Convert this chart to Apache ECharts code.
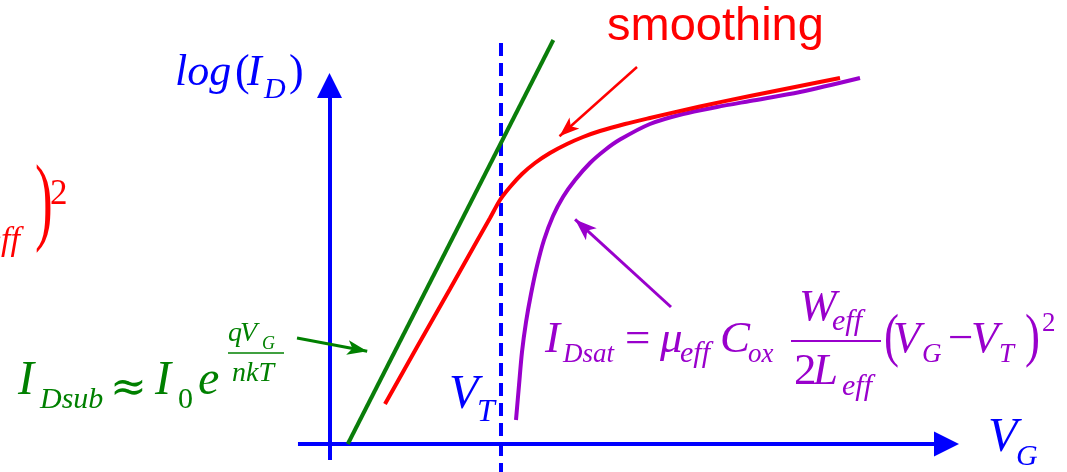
<!DOCTYPE html>
<html>
<head>
<meta charset="utf-8">
<script src="https://cdn.jsdelivr.net/npm/echarts@6/dist/echarts.min.js"></script>
<style>
  html, body { margin: 0; padding: 0; background: #ffffff; }
  #chart { width: 1067px; height: 472px; }
</style>
</head>
<body>
<div id="chart"></div>
<script>
// Gate voltage V_G (x) against log(I_D) (y), in arbitrary schematic units.

// Subthreshold exponential: a straight line on the log scale
const subthresholdVG    = [0.29, 3.55];
const subthresholdLogID = [0.00, 10.10];

// Smoothed model joining both regimes
const smoothVG    = [0.880, 1.388, 1.911, 2.339, 2.546, 2.704, 2.863, 3.053, 3.259, 3.497, 3.767, 4.021, 4.290, 4.687, 5.083, 5.876, 6.669, 7.462, 8.097];
const smoothLogID = [1.000, 2.425, 3.875, 5.075, 5.650, 6.100, 6.425, 6.750, 7.025, 7.275, 7.500, 7.675, 7.825, 8.000, 8.150, 8.438, 8.700, 8.950, 9.150];

// Square-law saturation current, rising from V_T
const saturationVG    = [2.958, 3.006, 3.053, 3.117, 3.196, 3.291, 3.402, 3.545, 3.703, 3.894, 4.132, 4.370, 4.607, 5.083, 5.607, 6.146, 6.669, 7.462, 8.414];
const saturationLogID = [0.600, 1.475, 2.300, 3.050, 3.750, 4.450, 5.100, 5.700, 6.175, 6.600, 7.025, 7.350, 7.610, 8.000, 8.250, 8.425, 8.575, 8.800, 9.150];

// Threshold voltage marker
const thresholdVG = 2.72;
const thresholdSpan = [10.025, -0.7];

// Axis arrows: [start, end] in data units
const yAxisSpan = [[0, -0.4], [0, 8.96]];
const xAxisSpan = [[-0.5, 0], [9.786, 0]];

// Pointer arrows: [tail, head]
const smoothPointer     = [[4.877, 9.425], [3.648, 7.693]];
const saturationPointer = [[5.416, 3.425], [3.895, 5.615]];
const subthPointer      = [[-0.515, 2.65], [0.598, 2.32]];

const BLUE = '#0000ff', RED = '#ff0000', GREEN = '#008000', GREEN_LINE = '#0a7d0a', PURPLE = '#9900cc';
const SERIF = '"Liberation Serif", "Times New Roman", serif';
const SANS = '"Liberation Sans", Arial, sans-serif';

const zip = (xs, ys) => xs.map((x, i) => [x, ys[i]]);

// Text placed on an alphabetic baseline (zrender centres text on the em box)
function glyph(text, x, base, size, color, opt) {
  opt = opt || {};
  const family = opt.family || SERIF;
  const fstyle = opt.italic === false ? 'normal' : 'italic';
  const mid = opt.mid != null ? opt.mid : 0.3375;
  const align = opt.align || 'left';
  return {
    type: 'text', x: x, y: base - mid * size,
    scaleX: opt.sx || 1, silent: true, z: 10,
    style: {
      text: text, fill: color,
      font: fstyle + ' ' + size + 'px ' + family,
      textAlign: align, textVerticalAlign: 'middle',
      align: align, verticalAlign: 'middle'
    }
  };
}
function bar(x1, x2, y, color, w) {
  return { type: 'line', silent: true, z: 10,
    shape: { x1: x1, y1: y, x2: x2, y2: y },
    style: { stroke: color, lineWidth: w } };
}
const up = { italic: false };

const texts = [
  // log(I_D)
  glyph('log', 175, 88, 44, BLUE),
  glyph('(', 235, 88, 44, BLUE, up),
  glyph('I', 247, 88, 44, BLUE),
  glyph('D', 264, 100, 30, BLUE),
  glyph(')', 289, 88, 44, BLUE, up),
  // V_G
  glyph('V', 988, 455, 48, BLUE),
  glyph('G', 1016, 467, 30, BLUE),
  // V_T
  glyph('V', 449, 412, 48, BLUE),
  glyph('T', 477, 423, 32, BLUE),

  // smoothing
  glyph('smoothing', 607, 43, 47, RED, { italic: false, family: SANS, mid: 0.3465 }),
  // tail of a red expression at the left edge
  glyph('eff', 20, 253, 34, RED, { align: 'right' }),
  glyph(')', 35, 239, 97, RED, { italic: false, sx: 0.55 }),
  glyph('2', 50, 207, 35, RED, up),

  // I_Dsub ≈ I_0 e^(qV_G / nkT)
  glyph('I', 18, 398, 48, GREEN),
  glyph('Dsub', 40, 410, 30, GREEN),
  glyph('\u2248', 110, 398, 44, GREEN, { italic: false, family: '"DejaVu Serif", serif', mid: 0.2 }),
  glyph('I', 155, 398, 48, GREEN),
  glyph('0', 178, 410, 30, GREEN, up),
  glyph('e', 198, 398, 48, GREEN),
  glyph('q', 228, 343, 28, GREEN),
  glyph('V', 240, 343, 28, GREEN),
  glyph('G', 262, 350, 18, GREEN),
  bar(228, 284, 353, GREEN, 1.6),
  glyph('nkT', 232, 383, 28, GREEN),

  // I_Dsat = mu_eff C_ox W_eff / (2 L_eff) (V_G - V_T)^2
  glyph('I', 545, 355, 45, PURPLE),
  glyph('Dsat', 563, 364, 27, PURPLE),
  glyph('=', 625, 355, 45, PURPLE, up),
  glyph('\u03bc', 660, 355, 45, PURPLE),
  glyph('eff', 680, 364, 30, PURPLE),
  glyph('C', 720, 355, 45, PURPLE),
  glyph('ox', 748, 364, 27, PURPLE),
  glyph('W', 799, 323, 45, PURPLE),
  glyph('eff', 832, 332, 30, PURPLE),
  bar(791, 881, 341, PURPLE, 2),
  glyph('2', 794, 387, 45, PURPLE, up),
  glyph('L', 813, 387, 45, PURPLE),
  glyph('eff', 842, 397, 30, PURPLE),
  glyph('(', 884, 359, 60, PURPLE, { italic: false, sx: 0.75 }),
  glyph('V', 893, 355, 45, PURPLE),
  glyph('G', 922, 364, 27, PURPLE),
  glyph('\u2212', 948, 355, 45, PURPLE, up),
  glyph('V', 971, 355, 45, PURPLE),
  glyph('T', 999, 364, 27, PURPLE),
  glyph(')', 1025, 359, 60, PURPLE, { italic: false, sx: 0.75 }),
  glyph('2', 1042, 333, 27, PURPLE, up)
];

function pointer(name, seg, color, width, head) {
  return {
    name: name, type: 'lines', coordinateSystem: 'cartesian2d', silent: true, z: 4,
    symbol: ['none', 'arrow'], symbolSize: [4, head],
    lineStyle: { color: color, width: width, opacity: 1, curveness: 0 },
    data: [{ coords: seg }]
  };
}

const chart = echarts.init(document.getElementById('chart'));
chart.setOption({
  animation: false,
  backgroundColor: '#ffffff',
  grid: { left: 266.45, right: 107, top: 24, bottom: 0 },
  xAxis: { type: 'value', min: -1, max: 10, show: false },
  yAxis: { type: 'value', min: -0.7, max: 10.5, show: false },
  graphic: texts,
  series: [
    {
      name: 'axes', type: 'lines', coordinateSystem: 'cartesian2d', silent: true, z: 1,
      symbol: ['none', 'triangle'], symbolSize: [4, [25, 25]],
      lineStyle: { color: BLUE, width: 4, opacity: 1, curveness: 0 },
      data: [{ coords: yAxisSpan }, { coords: xAxisSpan }]
    },
    {
      name: 'V_T', type: 'line', silent: true, z: 1, showSymbol: false,
      data: thresholdSpan.map(v => [thresholdVG, v]),
      lineStyle: { color: BLUE, width: 4, type: [13, 7] }
    },
    {
      name: 'I_Dsub', type: 'line', silent: true, z: 2, showSymbol: false,
      data: zip(subthresholdVG, subthresholdLogID),
      lineStyle: { color: GREEN_LINE, width: 4 }
    },
    {
      name: 'I_Dsat', type: 'line', silent: true, z: 2, showSymbol: false, smooth: 0.3,
      data: zip(saturationVG, saturationLogID),
      lineStyle: { color: PURPLE, width: 4 }
    },
    {
      name: 'smoothing', type: 'line', silent: true, z: 3, showSymbol: false, smooth: 0.3,
      data: zip(smoothVG, smoothLogID),
      lineStyle: { color: RED, width: 4 }
    },
    pointer('smoothing pointer', smoothPointer, RED, 2.5, [11, 20]),
    pointer('saturation pointer', saturationPointer, PURPLE, 3, [12, 22]),
    pointer('subthreshold pointer', subthPointer, GREEN, 3, [11, 20])
  ]
});
</script>
</body>
</html>
